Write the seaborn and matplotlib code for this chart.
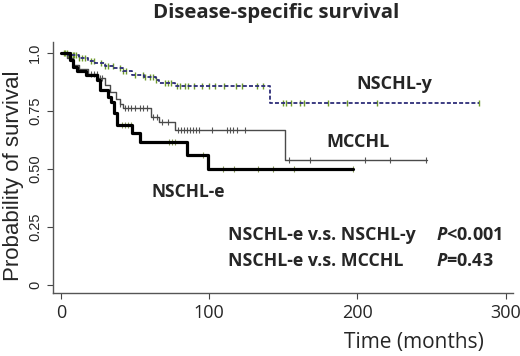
import numpy as np
import pandas as pd
import matplotlib
matplotlib.use("Agg")
import matplotlib.pyplot as plt
import seaborn as sns

# ---- data ----
y_times = [0, 5, 12, 18, 23, 30, 36, 42, 48, 56, 64, 66, 77, 141]
y_surv = [1.0, 0.99, 0.98, 0.966, 0.957, 0.945, 0.935, 0.92, 0.905, 0.897, 0.885, 0.87, 0.858, 0.784]
y_end = 282
y_cens = [2, 3, 4, 5, 6, 7, 8, 9, 10, 12, 14, 16, 20, 22, 27, 30, 32, 35, 40, 42, 44, 50, 55, 57,
          60, 62, 64, 70, 72, 74, 78, 80, 84, 86, 90, 95, 100, 104, 110, 118, 122, 132, 136,
          150, 152, 155, 161, 164, 180, 193, 213, 282]

m_times = [0, 4, 8, 12, 18, 25, 30, 33, 37, 40, 42, 61, 66, 77, 151]
m_surv = [1.0, 0.98, 0.95, 0.93, 0.91, 0.89, 0.86, 0.83, 0.80, 0.78, 0.763, 0.724, 0.703, 0.668, 0.539]
m_end = 247
m_cens = [20, 22, 24, 26, 28, 40, 43, 45, 47, 50, 53, 55, 58, 62, 65, 68, 72, 79, 81, 83, 85,
          87, 89, 91, 93, 102, 112, 114, 116, 119, 124, 154, 168, 205, 222, 246]

e_times = [0, 6, 8, 11, 17, 24, 26, 32, 34, 36, 38, 48, 53, 85, 99]
e_surv = [1.0, 0.97, 0.94, 0.92, 0.905, 0.884, 0.84, 0.81, 0.79, 0.74, 0.69, 0.655, 0.616, 0.56, 0.50]
e_end = 197
e_cens = [41, 43, 45, 47, 73, 75, 77, 96, 109, 117, 133, 143, 157, 197]

groups = ["NSCHL-y", "MCCHL", "NSCHL-e"]
x_ticks = [0, 100, 200, 300]
y_ticks = [0, 0.25, 0.50, 0.75, 1.0]
y_ticklabels = ["0", "0.25", "0.50", "0.75", "1.0"]


def step_df(times, surv, end, name):
    t = list(times) + [end]
    s = list(surv) + [surv[-1]]
    return pd.DataFrame({"time": t, "surv": s, "group": name})


def cens_df(times, surv, cens, name):
    idx = np.searchsorted(np.array(times), np.array(cens), side="right") - 1
    return pd.DataFrame({"time": cens, "surv": np.array(surv)[idx], "group": name})


sns.set_style("white")
plt.rcParams["font.family"] = ["Open Sans", "DejaVu Sans"]
plt.rcParams["mathtext.fontset"] = "custom"
plt.rcParams["mathtext.bfit"] = "Open Sans:bold:italic"

fig = plt.figure(figsize=(5.2, 3.56), dpi=100)
ax = fig.add_axes([53 / 520, 1 - 293 / 356, (513 - 53) / 520, (293 - 42) / 356])

dy = step_df(y_times, y_surv, y_end, groups[0])
dm = step_df(m_times, m_surv, m_end, groups[1])
de = step_df(e_times, e_surv, e_end, groups[2])

sns.lineplot(data=dm, x="time", y="surv", ax=ax, estimator=None, sort=False,
             drawstyle="steps-post", color="#4a4a4a", lw=1.0)
sns.lineplot(data=dy, x="time", y="surv", ax=ax, estimator=None, sort=False,
             drawstyle="steps-post", color="#2d2d78", lw=1.3, dashes=False,
             linestyle=(0, (2.2, 1.2)))
sns.lineplot(data=de, x="time", y="surv", ax=ax, estimator=None, sort=False,
             drawstyle="steps-post", color="black", lw=2.3)

cy = cens_df(y_times, y_surv, y_cens, groups[0])
cm = cens_df(m_times, m_surv, m_cens, groups[1])
ce = cens_df(e_times, e_surv, e_cens, groups[2])
sns.scatterplot(data=cy, x="time", y="surv", ax=ax, marker="|", s=22, color="#6f9a2a", linewidth=1.0)
sns.scatterplot(data=cm, x="time", y="surv", ax=ax, marker="|", s=22, color="#555555", linewidth=0.8)
sns.scatterplot(data=ce, x="time", y="surv", ax=ax, marker="|", s=22, color="#8a9a5a", linewidth=0.8)

ax.set_xlim(-5.4, 305)
ax.set_ylim(-0.034, 1.047)
ax.set_xticks(x_ticks)
ax.set_xticklabels([str(v) for v in x_ticks], fontsize=13)
ax.set_yticks(y_ticks)
ax.set_yticklabels(y_ticklabels, fontsize=10.5, fontfamily="Liberation Sans", rotation=90, va="center")
ax.tick_params(axis="both", direction="out", length=4, width=0.8, color="#444444", pad=4, left=True, bottom=True)
for s in ["top", "right"]:
    ax.spines[s].set_visible(False)
for s in ["left", "bottom"]:
    ax.spines[s].set_color("#555555")
    ax.spines[s].set_linewidth(1.0)

ax.set_xlabel("Time (months)", fontsize=15)
ax.xaxis.set_label_coords((414 - 53) / 460, (293 - 332) / 251)
ax.set_ylabel("Probability of survival", fontsize=16, fontfamily="Liberation Sans")
ax.yaxis.set_label_coords((24 - 53) / 460, (293 - 175.5) / 251)

fig.text(276 / 520, 1 - 13 / 356, "Disease-specific survival", ha="center", va="center",
         fontsize=14.7, fontweight="bold")

ax.text(199, 0.865, "NSCHL-y", fontsize=13, fontweight="bold", ha="left", va="center")
ax.text(179, 0.615, "MCCHL", fontsize=13, fontweight="bold", ha="left", va="center")
ax.text(61, 0.40, "NSCHL-e", fontsize=12.5, fontweight="bold", ha="left", va="center")

ax.text(113, 0.215, "NSCHL-e v.s. NSCHL-y", fontsize=12.8, fontweight="bold", ha="left", va="center")
ax.text(253, 0.215, r"$\bfit{P}$<0.001", fontsize=13, fontweight="bold", ha="left", va="center")
ax.text(113, 0.105, "NSCHL-e v.s. MCCHL", fontsize=12.8, fontweight="bold", ha="left", va="center")
ax.text(253, 0.105, r"$\bfit{P}$=0.43", fontsize=13, fontweight="bold", ha="left", va="center")

fig.savefig("out.png", dpi=100)
